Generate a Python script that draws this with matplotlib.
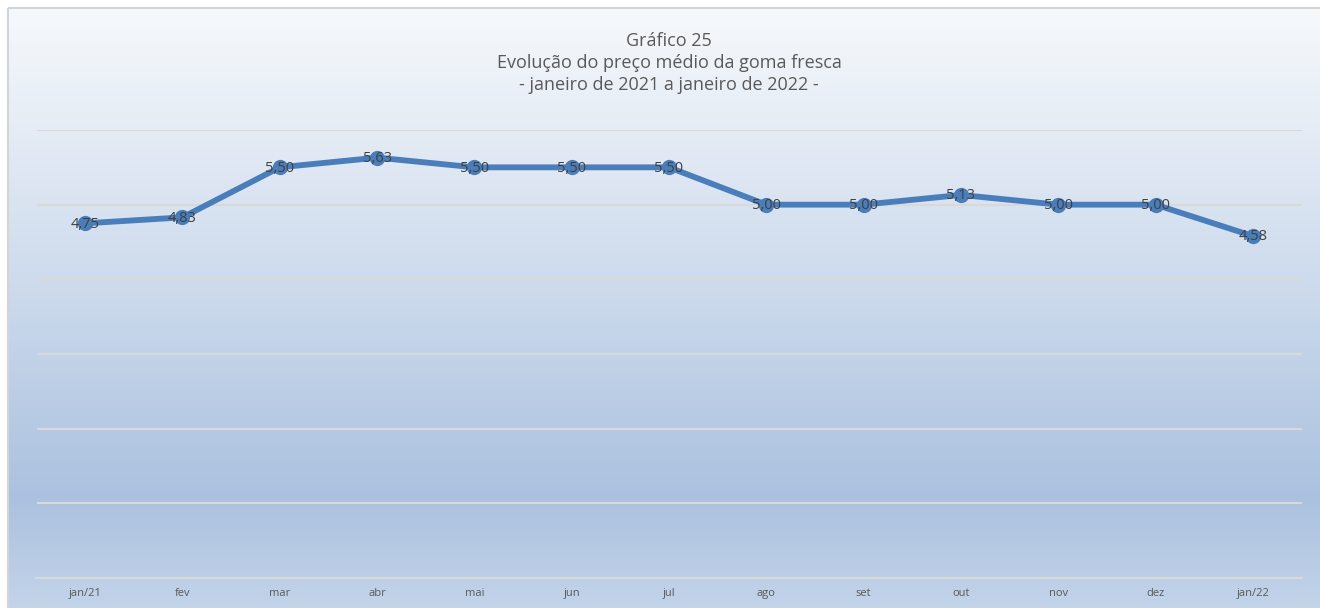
import numpy as np
import matplotlib.pyplot as plt
from matplotlib.colors import LinearSegmentedColormap
from matplotlib.patches import Rectangle

# data
months = ["jan/21", "fev", "mar", "abr", "mai", "jun", "jul",
          "ago", "set", "out", "nov", "dez", "jan/22"]
prices = [4.75, 4.83, 5.50, 5.63, 5.50, 5.50, 5.50,
          5.00, 5.00, 5.13, 5.00, 5.00, 4.58]
labels = ["4,75", "4,83", "5,50", "5,63", "5,50", "5,50", "5,50",
          "5,00", "5,00", "5,13", "5,00", "5,00", "4,58"]

plt.rcParams['font.family'] = ['Open Sans', 'DejaVu Sans']

W, H = 1320, 608
fig = plt.figure(figsize=(W / 100, H / 100), dpi=100)
fig.patch.set_facecolor('white')

# background gradient (top light -> blue -> slightly lighter at bottom)
bg = fig.add_axes([0, 0, 1, 1], zorder=0)
bg.set_xlim(0, W)
bg.set_ylim(H, 0)
bg.axis('off')
cmap = LinearSegmentedColormap.from_list(
    'bg', [(0.0, '#f6f9fc'), (0.2, '#e5ecf5'), (0.5, '#c9d8eb'),
           (0.82, '#abc1df'), (1.0, '#c3d4e9')])
grad = np.linspace(0, 1, 300).reshape(-1, 1)
bg.imshow(grad, cmap=cmap, aspect='auto', extent=[8, W, H, 8], zorder=0)
bg.add_patch(Rectangle((7.5, 7.5), W, H, fill=False, edgecolor='#d4d4d4', lw=1.5, zorder=1))

ax = fig.add_axes([36.5 / W, 30 / H, 1265 / W, 448 / H], zorder=2)
ax.patch.set_alpha(0)
x = np.arange(len(months))
ax.plot(x, prices, color='#4a7ebb', lw=4.2, marker='o', markersize=11,
        markeredgewidth=0, solid_capstyle='round', zorder=3)
for xi, yi, lab in zip(x, prices, labels):
    ax.text(xi, yi - 0.01, lab, ha='center', va='center', fontsize=10.5, color='#404040', zorder=4)

ax.set_xlim(-0.5, len(months) - 0.5)
ax.set_ylim(0, 6)
ax.set_yticks(np.arange(0, 7, 1))
ax.yaxis.grid(True, color='#d9d9d9', lw=1.5)
ax.set_axisbelow(True)
ax.tick_params(axis='y', left=False, labelleft=False)
ax.set_xticks(x)
ax.set_xticklabels(months, fontsize=8, color='#595959')
ax.tick_params(axis='x', length=0, pad=7)
for s in ['top', 'right', 'left']:
    ax.spines[s].set_visible(False)
ax.spines['bottom'].set_color('#d9d9d9')
ax.spines['bottom'].set_linewidth(1.5)

fig.text(669 / W, 1 - 63 / H, "Gráfico 25\nEvolução do preço médio da goma fresca\n- janeiro de 2021 a janeiro de 2022 -",
         ha='center', va='center', fontsize=13, color='#595959', linespacing=1.25)

fig.savefig('out.png', dpi=100)
